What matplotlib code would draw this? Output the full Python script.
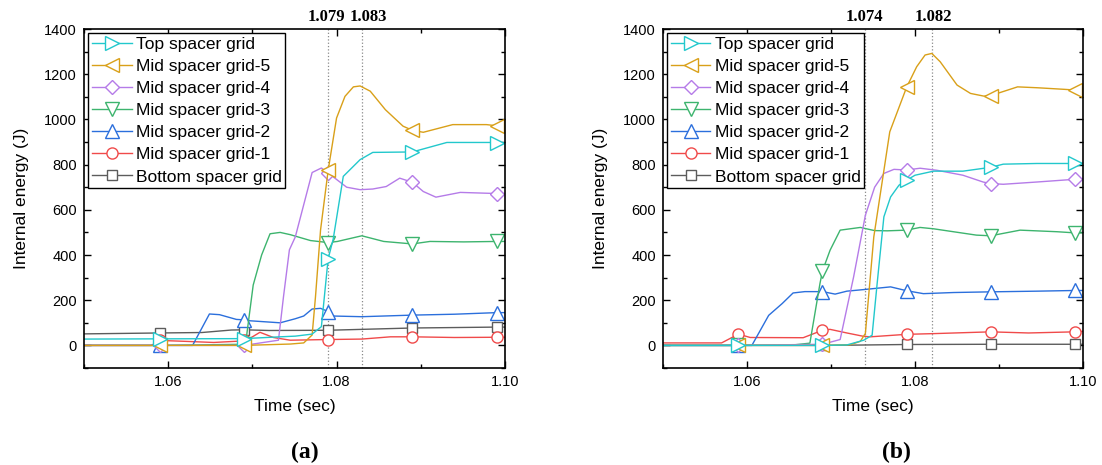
import numpy as np
import matplotlib
matplotlib.use("Agg")
import matplotlib.pyplot as plt
from matplotlib.ticker import MultipleLocator, FormatStrFormatter

plt.rcParams['font.family'] = ['Liberation Sans', 'DejaVu Sans']

names = ["Top spacer grid", "Mid spacer grid-5", "Mid spacer grid-4", "Mid spacer grid-3",
         "Mid spacer grid-2", "Mid spacer grid-1", "Bottom spacer grid"]
colors = ["#22c8cc", "#d9a019", "#b57be8", "#3db46e", "#2b6fdc", "#f04a4a", "#5c5c5c"]
markers = [">", "<", "D", "v", "^", "o", "s"]
msizes = [10, 10, 7, 10, 10, 8, 7]
mark_times = [1.059, 1.069, 1.079, 1.089, 1.099]

# ---- panel (a) ----
a_top_t = [1.050, 1.059, 1.069, 1.0733, 1.0751, 1.0771, 1.0782, 1.079, 1.0796, 1.0808, 1.0828, 1.0843, 1.089, 1.0931, 1.0986, 1.099, 1.100]
a_top_v = [28, 29, 30, 38, 41, 50, 83, 383, 470, 748, 822, 854, 856, 898, 898, 895, 895]
a_mid5_t = [1.050, 1.059, 1.069, 1.0745, 1.0761, 1.0771, 1.0775, 1.0781, 1.079, 1.080, 1.081, 1.082, 1.0828, 1.084, 1.0858, 1.0879, 1.089, 1.0903, 1.0938, 1.0978, 1.099, 1.100]
a_mid5_v = [0, 0, 0, 6, 11, 46, 216, 511, 774, 1006, 1102, 1144, 1148, 1125, 1043, 970, 952, 943, 977, 977, 972, 972]
a_mid4_t = [1.050, 1.059, 1.069, 1.0731, 1.0737, 1.0744, 1.0751, 1.0771, 1.0782, 1.079, 1.0812, 1.0828, 1.0843, 1.0859, 1.0875, 1.089, 1.0903, 1.0918, 1.0947, 1.099, 1.100]
a_mid4_v = [0, 0, 0, 23, 216, 423, 480, 765, 785, 763, 700, 689, 692, 703, 740, 722, 681, 656, 677, 672, 672]
a_mid3_t = [1.050, 1.059, 1.069, 1.0693, 1.0701, 1.0711, 1.0721, 1.0733, 1.0745, 1.0769, 1.079, 1.0801, 1.083, 1.0856, 1.089, 1.0911, 1.0951, 1.099, 1.100]
a_mid3_v = [0, 0, 5, 38, 267, 400, 494, 500, 490, 464, 455, 460, 485, 460, 449, 460, 458, 460, 460]
a_mid2_t = [1.050, 1.059, 1.0629, 1.0649, 1.0661, 1.0681, 1.069, 1.0697, 1.0733, 1.0751, 1.0761, 1.0771, 1.0781, 1.079, 1.0796, 1.083, 1.089, 1.094, 1.099, 1.100]
a_mid2_v = [0, 0, 0, 139, 136, 115, 113, 109, 100, 118, 130, 161, 164, 150, 130, 127, 134, 138, 145, 145]
a_mid1_t = [1.050, 1.058, 1.059, 1.062, 1.0654, 1.0685, 1.069, 1.0697, 1.0709, 1.0725, 1.0745, 1.079, 1.083, 1.0864, 1.089, 1.094, 1.099, 1.100]
a_mid1_v = [0, 0, 22, 18, 13, 19, 22, 31, 58, 35, 23, 26, 28, 38, 38, 35, 36, 36]
a_bot_t = [1.050, 1.059, 1.064, 1.0675, 1.069, 1.072, 1.079, 1.083, 1.089, 1.094, 1.099, 1.100]
a_bot_v = [51, 55, 57, 68, 69, 66, 67, 71, 77, 79, 81, 81]
a_lines = [1.079, 1.083]

# ---- panel (b) ----
b_top_t = [1.050, 1.059, 1.069, 1.0719, 1.0739, 1.0749, 1.0755, 1.0763, 1.0771, 1.0781, 1.079, 1.080, 1.0822, 1.0857, 1.089, 1.0905, 1.0945, 1.099, 1.100]
b_top_v = [0, 0, 0, 2, 23, 45, 274, 569, 657, 709, 731, 753, 771, 771, 788, 802, 805, 805, 805]
b_mid5_t = [1.050, 1.059, 1.069, 1.0723, 1.0735, 1.0741, 1.0751, 1.077, 1.079, 1.0802, 1.0812, 1.082, 1.083, 1.085, 1.0866, 1.0882, 1.089, 1.0898, 1.0922, 1.0946, 1.0978, 1.099, 1.100]
b_mid5_v = [0, 0, 0, 3, 18, 53, 480, 945, 1142, 1233, 1285, 1292, 1255, 1152, 1115, 1103, 1104, 1115, 1144, 1140, 1133, 1130, 1130]
b_mid4_t = [1.050, 1.059, 1.069, 1.0711, 1.0727, 1.0741, 1.0752, 1.0763, 1.0775, 1.079, 1.0806, 1.0826, 1.0857, 1.0881, 1.089, 1.0905, 1.0945, 1.099, 1.100]
b_mid4_v = [0, 0, 5, 26, 303, 576, 700, 761, 779, 776, 784, 775, 753, 723, 716, 713, 723, 735, 737]
b_mid3_t = [1.050, 1.059, 1.0655, 1.0675, 1.0687, 1.069, 1.0699, 1.0711, 1.0735, 1.0752, 1.0767, 1.079, 1.0806, 1.0822, 1.0873, 1.089, 1.0925, 1.0969, 1.099, 1.100]
b_mid3_v = [0, 0, 2, 10, 274, 330, 421, 510, 522, 508, 507, 510, 522, 516, 488, 485, 510, 503, 498, 498]
b_mid2_t = [1.050, 1.059, 1.0606, 1.0626, 1.0642, 1.0655, 1.0669, 1.069, 1.0705, 1.0719, 1.0739, 1.0771, 1.079, 1.081, 1.0846, 1.089, 1.0945, 1.099, 1.100]
b_mid2_v = [0, 0, 0, 133, 185, 232, 238, 238, 227, 240, 247, 259, 242, 229, 234, 237, 240, 243, 243]
b_mid1_t = [1.050, 1.057, 1.059, 1.0604, 1.0667, 1.069, 1.0699, 1.0719, 1.0739, 1.0747, 1.079, 1.0821, 1.089, 1.0935, 1.099, 1.100]
b_mid1_v = [11, 11, 50, 35, 34, 67, 71, 55, 40, 38, 49, 52, 60, 55, 60, 62]
b_bot_t = [1.050, 1.059, 1.069, 1.072, 1.079, 1.089, 1.099, 1.100]
b_bot_v = [0, 0, 0, 1, 4, 5, 5, 5]
b_lines = [1.074, 1.082]

a_series = [(a_top_t, a_top_v), (a_mid5_t, a_mid5_v), (a_mid4_t, a_mid4_v), (a_mid3_t, a_mid3_v),
            (a_mid2_t, a_mid2_v), (a_mid1_t, a_mid1_v), (a_bot_t, a_bot_v)]
b_series = [(b_top_t, b_top_v), (b_mid5_t, b_mid5_v), (b_mid4_t, b_mid4_v), (b_mid3_t, b_mid3_v),
            (b_mid2_t, b_mid2_v), (b_mid1_t, b_mid1_v), (b_bot_t, b_bot_v)]


def draw_panel(ax, series, vlines, offsets):
    handles = []
    # bottom grid drawn first, top grid last
    for i in reversed(range(len(series))):
        t = np.array(series[i][0])
        v = np.array(series[i][1])
        idx = [int(np.argmin(abs(t - m))) for m in mark_times]
        h, = ax.plot(t, v, color=colors[i], lw=1.0, marker=markers[i], ms=msizes[i],
                     mfc="white", mec=colors[i], mew=1.0, markevery=idx, label=names[i])
        handles.append(h)
    handles = handles[::-1]

    for x in vlines:
        ax.axvline(x, color="#8a8a8a", ls=":", lw=0.9, zorder=0)
    for x, off in zip(vlines, offsets):
        ax.annotate("%.3f" % x, xy=(x, 1.0), xycoords=("data", "axes fraction"),
                    xytext=(off, 3), textcoords="offset points", ha="center", va="bottom",
                    fontsize=12, fontweight="bold", family=["Liberation Serif", "DejaVu Serif"])

    ax.set_xlim(1.05, 1.10)
    ax.set_ylim(-100, 1400)
    ax.xaxis.set_major_locator(MultipleLocator(0.02))
    ax.xaxis.set_minor_locator(MultipleLocator(0.01))
    ax.xaxis.set_major_formatter(FormatStrFormatter("%.2f"))
    ax.yaxis.set_major_locator(MultipleLocator(200))
    ax.yaxis.set_minor_locator(MultipleLocator(100))
    ax.tick_params(which="both", direction="in", top=True, right=True, labelsize=10.5, pad=5)
    ax.tick_params(which="major", length=5, width=1.0)
    ax.tick_params(which="minor", length=3, width=1.0)
    for s in ax.spines.values():
        s.set_linewidth(1.2)

    ax.set_xlabel("Time (sec)", fontsize=12.5)
    ax.set_ylabel("Internal energy (J)", fontsize=12.5)
    ax.xaxis.set_label_coords(0.5, -0.09)
    ax.yaxis.set_label_coords(-0.13, 0.5)

    leg = ax.legend(handles=handles, loc="upper left", fontsize=12.5, frameon=True, fancybox=False,
                    edgecolor="black", framealpha=1, labelspacing=0.4, borderpad=0.2,
                    handlelength=2.3, handletextpad=0.25, borderaxespad=0.25)
    leg.get_frame().set_linewidth(1.0)


fig = plt.figure(figsize=(11.02, 4.65), dpi=100)
ax1 = fig.add_axes([0.0762, 0.2086, 0.382, 0.729])
ax2 = fig.add_axes([0.6014, 0.2086, 0.3815, 0.729])

draw_panel(ax1, a_series, a_lines, [-1.5, 5])
draw_panel(ax2, b_series, b_lines, [0, 1])

fig.text(0.2768, 0.028, "(a)", ha="center", va="center", fontsize=17, fontweight="bold",
         family=["Liberation Serif", "DejaVu Serif"])
fig.text(0.8138, 0.028, "(b)", ha="center", va="center", fontsize=17, fontweight="bold",
         family=["Liberation Serif", "DejaVu Serif"])

fig.savefig("out.png", dpi=100)
